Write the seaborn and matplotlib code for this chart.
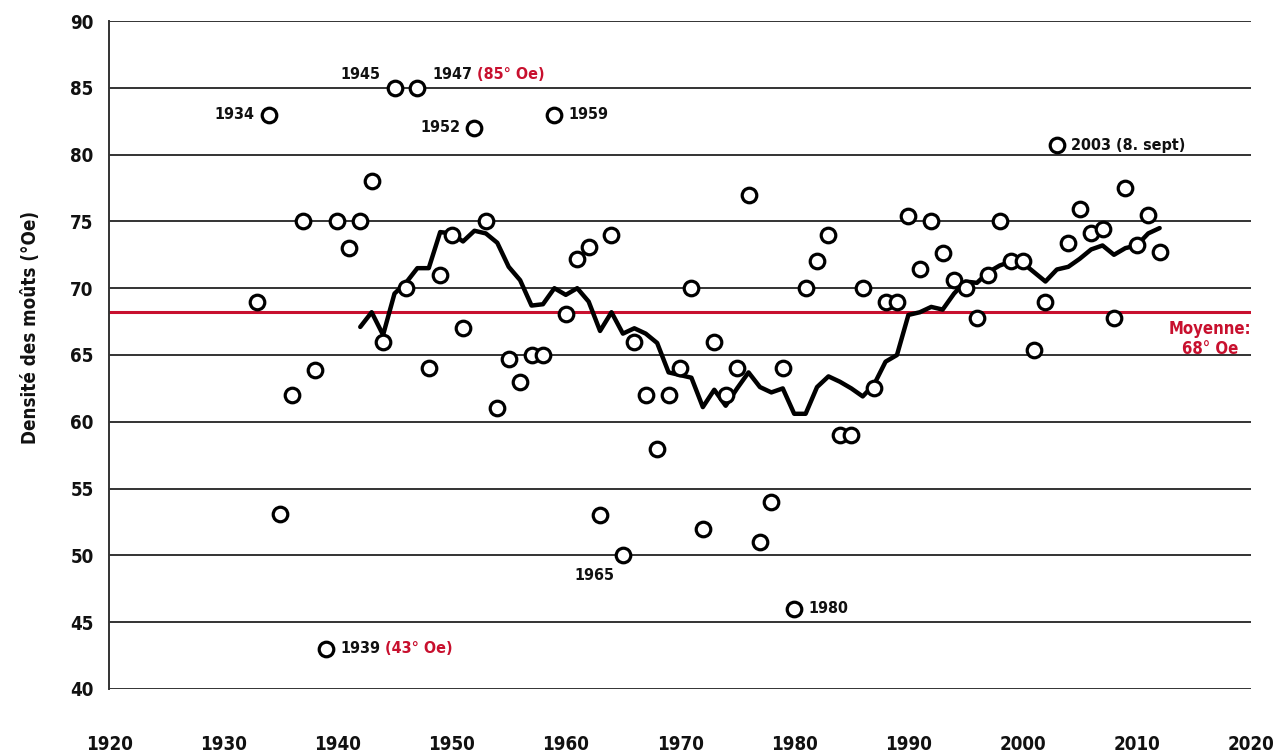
import matplotlib
matplotlib.use("Agg")
import matplotlib.pyplot as plt
import seaborn as sns
import pandas as pd
import numpy as np

# ---------------- data ----------------
years = list(range(1933, 2013))
density = [69, 83, 53.1, 62, 75, 63.9, 43, 75, 73, 75,
           78, 66, 85, 70, 85, 64, 71, 74, 67, 82,
           75, 61, 64.7, 63, 65, 65, 83, 68.1, 72.2, 73.1,
           53, 74, 50, 66, 62, 58, 62, 64, 70, 52,
           66, 62, 64, 77, 51, 54, 64, 46, 70, 72,
           74, 59, 59, 70, 62.5, 69, 69, 75.4, 71.4, 75,
           72.6, 70.6, 70, 67.8, 71, 75, 72, 72, 65.4, 69,
           80.7, 73.4, 75.9, 74.1, 74.4, 67.8, 77.5, 73.2, 75.5, 72.7]

trend_years = list(range(1942, 2013))
trend = [67.1, 68.2, 66.5, 69.6, 70.4, 71.5, 71.5, 74.2, 74.1, 73.5,
         74.3, 74.1, 73.4, 71.6, 70.6, 68.7, 68.8, 70.0, 69.5, 70.0,
         69.0, 66.8, 68.2, 66.6, 67.0, 66.6, 65.9, 63.7, 63.5, 63.3,
         61.1, 62.4, 61.2, 62.5, 63.7, 62.6, 62.2, 62.5, 60.6, 60.6,
         62.6, 63.4, 63.0, 62.5, 61.9, 62.8, 64.5, 65.0, 68.0, 68.2,
         68.6, 68.4, 69.6, 70.5, 70.4, 71.2, 71.7, 72.0, 71.9, 71.2,
         70.5, 71.4, 71.6, 72.2, 72.9, 73.2, 72.5, 73.0, 73.2, 74.1, 74.5]

mean_value = 68.2
x_ticks = [1920, 1930, 1940, 1950, 1960, 1970, 1980, 1990, 2000, 2010, 2020]
y_ticks = [40, 45, 50, 55, 60, 65, 70, 75, 80, 85, 90]

RED = "#c8102e"
INK = "#111111"

# ---------------- style ----------------
sns.set_style("white")
plt.rcParams["font.family"] = ["DejaVu Sans"]
plt.rcParams["font.stretch"] = "condensed"
plt.rcParams["font.weight"] = "bold"
plt.rcParams["text.color"] = INK
plt.rcParams["axes.labelcolor"] = INK
plt.rcParams["xtick.color"] = INK
plt.rcParams["ytick.color"] = INK

fig = plt.figure(figsize=(12.79, 7.53), dpi=100)
ax = fig.add_axes([109 / 1279, 1 - 689 / 753, 1142 / 1279, 668 / 753])

df_pts = pd.DataFrame({"year": years, "density": density})
df_trend = pd.DataFrame({"year": trend_years, "trend": trend})

for v in y_ticks:
    ax.axhline(v, color="#333333", lw=1.4, zorder=1)
ax.axhline(mean_value, color=RED, lw=2.2, zorder=2)

sns.lineplot(data=df_trend, x="year", y="trend", ax=ax, color="black",
             lw=3.2, zorder=3)
sns.scatterplot(data=df_pts, x="year", y="density", ax=ax, s=110,
                facecolor="white", edgecolor="black", linewidth=2.3, zorder=4)

ax.set_xlim(1920, 2020)
ax.set_ylim(40, 90)
ax.set_xticks(x_ticks)
ax.set_yticks(y_ticks)
ax.tick_params(axis="both", length=0, labelsize=13.5, colors=INK)
ax.tick_params(axis="x", pad=33)
ax.tick_params(axis="y", pad=11)
for lab in ax.get_xticklabels() + ax.get_yticklabels():
    lab.set_fontweight("bold")
    lab.set_fontstretch("condensed")
for s in ["top", "right", "bottom"]:
    ax.spines[s].set_visible(False)
ax.spines["left"].set_color("#333333")
ax.spines["left"].set_linewidth(1.4)
ax.set_xlabel("")
ax.set_ylabel("Densité des moûts (°Oe)", fontsize=13.5, fontweight="bold",
              fontstretch="condensed", color=INK)
ax.yaxis.set_label_coords(-0.060, 0.542)

# ---------------- annotations ----------------
val = dict(zip(years, density))
LS = 11.5


def note(year, text, dx, dy, ha="left", va="center", color=INK):
    return ax.annotate(text, (year, val[year]), xytext=(dx, dy),
                       textcoords="offset pixels", ha=ha, va=va,
                       fontsize=LS, fontweight="bold", fontstretch="condensed",
                       color=color, zorder=5)


note(1934, "1934", -14, 0, ha="right")
note(1945, "1945", -14, 13, ha="right")
t47 = note(1947, "1947", 15, 13)
note(1952, "1952", -14, 0, ha="right")
note(1959, "1959", 14, 0)
note(1965, "1965", -8, -20, ha="right")
note(1980, "1980", 14, 0)
t39 = note(1939, "1939", 14, 0)
note(2003, "2003 (8. sept)", 14, 0)

for base, txt in [(t47, "(85° Oe)"), (t39, "(43° Oe)")]:
    ax.annotate(txt, xy=(1.0, 0.5), xycoords=base, xytext=(5, 0),
                textcoords="offset pixels", ha="left", va="center",
                fontsize=LS, fontweight="bold", fontstretch="condensed",
                color=RED, zorder=5)

ax.annotate("Moyenne:\n68° Oe", (2020, mean_value), xytext=(0, -8),
            textcoords="offset pixels", ha="right", va="top",
            fontsize=LS + 0.5, fontweight="bold", fontstretch="condensed",
            color=RED, multialignment="center", linespacing=1.1, zorder=5)

fig.savefig("out.png", dpi=100)
